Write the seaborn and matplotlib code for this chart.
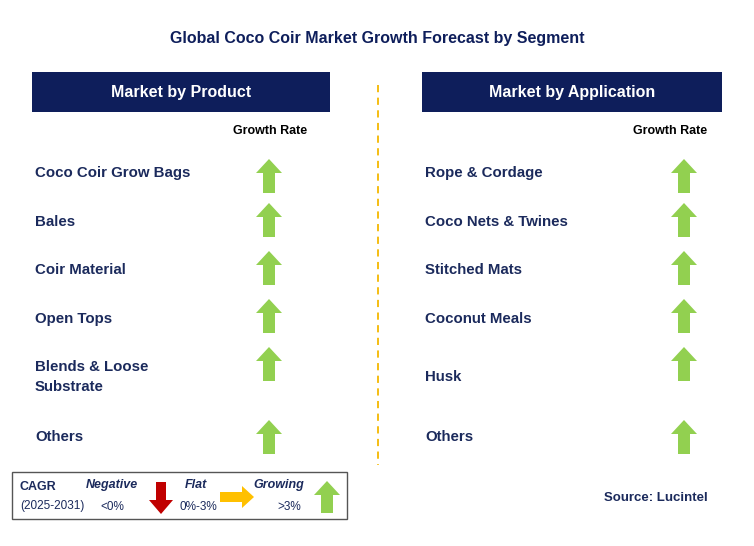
import matplotlib
matplotlib.use("Agg")
import matplotlib.pyplot as plt
import seaborn as sns
from matplotlib.patches import Rectangle, FancyArrow

sns.set_theme(style="white")
plt.rcParams["font.family"] = "Liberation Sans"

title = "Global Coco Coir Market Growth Forecast by Segment"
product_labels = ["Coco Coir Grow Bags", "Bales", "Coir Material", "Open Tops",
                  "Blends & Loose\nSubstrate", "Others"]
application_labels = ["Rope & Cordage", "Coco Nets & Twines", "Stitched Mats",
                      "Coconut Meals", "Husk", "Others"]
product_trend = ["up"] * 6
application_trend = ["up"] * 6
row_y = [173, 222, 270, 319, 377, 437]
arrow_y = [176, 220, 268, 316, 364, 437]

NAVY = "#0E1E5B"
TXT = "#1B2A5C"
GREEN = "#92D050"

fig = plt.figure(figsize=(7.54, 5.46), dpi=100)
ax = fig.add_axes([0, 0, 1, 1])
ax.set_xlim(0, 754); ax.set_ylim(546, 0); ax.axis("off")

ax.text(377, 38, title, ha="center", va="center", fontsize=11.5, fontweight="bold", color=NAVY)

def up(x, yc, h=34, color=GREEN):
    ax.add_patch(FancyArrow(x, yc + h/2, 0, -h, width=12, head_width=26, head_length=14,
                            length_includes_head=True, color=color, lw=0))

def panel(x0, x1, header, labels, trends, arrow_x, gr_x):
    ax.add_patch(Rectangle((x0, 72), x1 - x0, 40, color=NAVY, lw=0))
    ax.text((x0 + x1)/2, 92, header, ha="center", va="center", fontsize=11.5,
            fontweight="bold", color="white")
    ax.text(gr_x, 131, "Growth Rate", ha="center", va="center", fontsize=9,
            fontweight="bold", color="black")
    for lab, t, y, ay in zip(labels, trends, row_y, arrow_y):
        ax.text(x0 + 3, y, lab, ha="left", va="center", fontsize=10.8, fontweight="bold",
                color=TXT, linespacing=1.5)
        if t == "up":
            up(arrow_x, ay)

panel(32, 330, "Market by Product", product_labels, product_trend, 269, 270)
panel(422, 722, "Market by Application", application_labels, application_trend, 684, 670)

ax.plot([378, 378], [85, 465], ls=(0, (4, 3)), color="#F5B800", lw=1.3)

# legend
ax.add_patch(Rectangle((12, 472), 335, 47, fill=False, ec="#555555", lw=1))
ax.text(20, 487, "CAGR", fontsize=9, fontweight="bold", color=TXT, va="center")
ax.text(20, 506, "(2025-2031)", fontsize=8.5, color=TXT, va="center")
ax.text(112, 485, "Negative", fontsize=9, fontweight="bold", style="italic", color=TXT, va="center", ha="center")
ax.text(112, 507, "<0%", fontsize=8.5, color=TXT, va="center", ha="center")
ax.add_patch(FancyArrow(161, 482, 0, 32, width=10, head_width=24, head_length=14,
                        length_includes_head=True, color="#C00000", lw=0))
ax.text(196, 485, "Flat", fontsize=9, fontweight="bold", style="italic", color=TXT, va="center", ha="center")
ax.text(198, 507, "0%-3%", fontsize=8.5, color=TXT, va="center", ha="center")
ax.add_patch(FancyArrow(220, 497, 34, 0, width=10, head_width=22, head_length=12,
                        length_includes_head=True, color="#FFC000", lw=0))
ax.text(279, 485, "Growing", fontsize=9, fontweight="bold", style="italic", color=TXT, va="center", ha="center")
ax.text(289, 507, ">3%", fontsize=8.5, color=TXT, va="center", ha="center")
up(327, 497, h=32)

ax.text(708, 498, "Source: Lucintel", ha="right", va="center", fontsize=9.5, fontweight="bold", color=TXT)

fig.savefig("out.png", dpi=100)
